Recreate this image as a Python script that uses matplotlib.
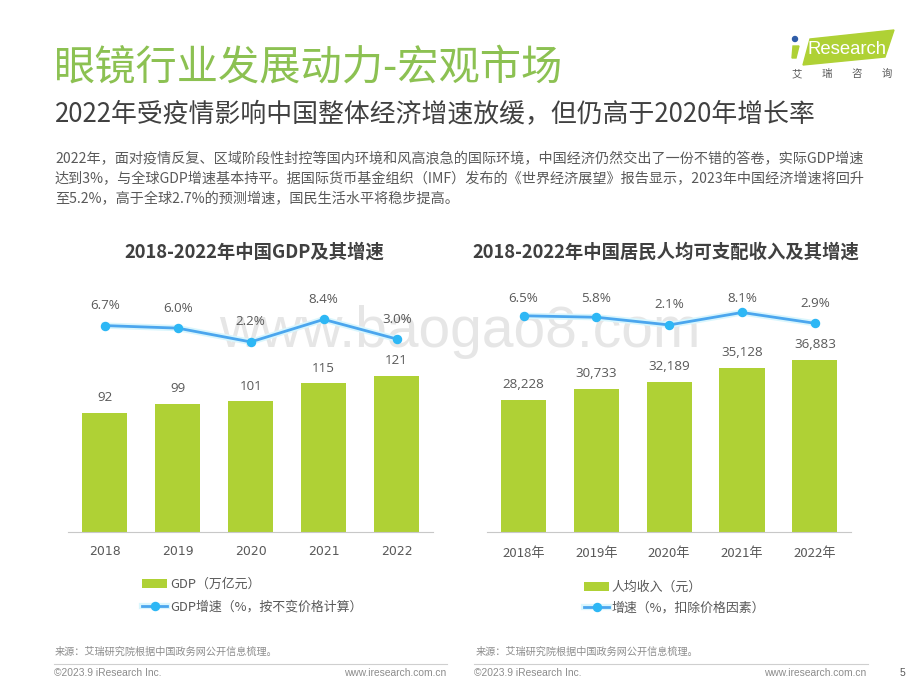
import matplotlib
matplotlib.use("Agg")
import matplotlib.pyplot as plt
from matplotlib.legend_handler import HandlerTuple
from matplotlib.patches import Polygon, Circle

plt.rcParams['font.family'] = ['Noto Sans CJK SC', 'DejaVu Sans']

# data
years_gdp = ['2018', '2019', '2020', '2021', '2022']
years_income = ['2018年', '2019年', '2020年', '2021年', '2022年']
gdp = [92, 99, 101, 115, 121]
gdp_rate = [6.7, 6.0, 2.2, 8.4, 3.0]
income = [28228, 30733, 32189, 35128, 36883]
income_rate = [6.5, 5.8, 2.1, 8.1, 2.9]

title = '眼镜行业发展动力-宏观市场'
subtitle = '2022年受疫情影响中国整体经济增速放缓，但仍高于2020年增长率'
body = ['2022年，面对疫情反复、区域阶段性封控等国内环境和风高浪急的国际环境，中国经济仍然交出了一份不错的答卷，实际GDP增速',
        '达到3%，与全球GDP增速基本持平。据国际货币基金组织（IMF）发布的《世界经济展望》报告显示，2023年中国经济增速将回升',
        '至5.2%，高于全球2.7%的预测增速，国民生活水平将稳步提高。']

GREEN = '#AFD135'
BLUE = '#4BA6EE'
DOT = '#2DB7F5'
TEXT = '#595959'
W, H = 920, 690

fig = plt.figure(figsize=(9.2, 6.9), dpi=100)


def axes_px(x0, x1, y0, y1):
    return fig.add_axes([x0 / W, 1 - y1 / H, (x1 - x0) / W, (y1 - y0) / H])


# page layer in pixel coords
bg = axes_px(0, W, 0, H)
bg.set_xlim(0, W)
bg.set_ylim(H, 0)
bg.axis('off')

bg.text(54, 69, title, fontsize=29.7, color='#8CC152', va='center', ha='left')
bg.text(55, 115, subtitle, fontsize=18.6, color='#404040', va='center', ha='left')
for y, line in zip([159, 179, 199], body):
    bg.text(55, y, line, fontsize=10.17, color=TEXT, va='center', ha='left')

bg.text(254, 252, '2018-2022年中国GDP及其增速', fontsize=13.2, fontweight='bold',
        color='#404040', ha='center', va='center')
bg.text(666, 252, '2018-2022年中国居民人均可支配收入及其增速', fontsize=13.2, fontweight='bold',
        color='#404040', ha='center', va='center')

# logo
bg.add_patch(Polygon([[810, 39], [894, 30], [885, 57], [803, 65]], closed=True, color=GREEN))
bg.add_patch(Polygon([[793, 46], [799, 46], [796, 58], [792, 58]], closed=True, color=GREEN))
bg.add_patch(Circle((795, 39), 2.5, color='#2F5DA8'))
bg.text(808, 49, 'Research', family='Liberation Sans', fontsize=13.3, color='white', ha='left', va='center')
for x, ch in zip([797, 827, 857, 887], '艾瑞咨询'):
    bg.text(x, 74, ch, fontsize=7.5, color=TEXT, ha='center', va='center')

# footer
for x0, x1, url_x, src_x in [(54, 447, 446, 55), (474, 868, 866, 476)]:
    bg.plot([x0, x1], [663.5, 663.5], color='#CFCFCF', lw=0.8)
    bg.text(src_x, 652, '来源：艾瑞研究院根据中国政务网公开信息梳理。', fontsize=7.3, color='#8C8C8C', va='center')
    bg.text(x0, 673, '©2023.9 iResearch Inc.', family='Liberation Sans', fontsize=7.4,
            color='#8C8C8C', va='center')
    bg.text(url_x, 673, 'www.iresearch.com.cn', family='Liberation Sans', fontsize=7.4,
            color='#8C8C8C', va='center', ha='right')
bg.text(902, 673, '5', family='Liberation Sans', fontsize=7.5, color=TEXT, ha='center', va='center')


def draw_chart(x0, x1, labels, bars, rates, bar_top, rate_lim, bar_fmt, tick_font, tick_size, tick_pad,
               rate_off, names, legend_xy, spacing):
    ax = axes_px(x0, x1, 290, 531.5)
    ax.patch.set_alpha(0)
    xs = list(range(len(labels)))
    b = ax.bar(xs, bars, width=0.623, color=GREEN, zorder=2)
    ax.set_xlim(-0.503, 4.497)
    ax.set_ylim(0, bar_top)
    ax.set_xticks(xs)
    ax.set_xticklabels(labels, fontsize=tick_size, color=TEXT, family=tick_font)
    ax.tick_params(axis='x', length=0, pad=tick_pad)
    ax.set_yticks([])
    for s in ['top', 'left', 'right']:
        ax.spines[s].set_visible(False)
    ax.spines['bottom'].set_color('#C8C8C8')
    ax.spines['bottom'].set_linewidth(0.8)
    for x, v in zip(xs, bars):
        ax.annotate(bar_fmt.format(v), (x, v), xytext=(0, 11), textcoords='offset points',
                    ha='center', va='center', fontsize=9.6, color=TEXT, family='Open Sans')

    ax2 = ax.twinx()
    ax2.set_ylim(*rate_lim)
    ax2.axis('off')
    glow, = ax2.plot(xs, rates, color='#D9F6FD', lw=4.5, zorder=2)
    line, = ax2.plot(xs, rates, color=BLUE, lw=2, marker='o', ms=5.8, mfc=DOT, mec=DOT, zorder=3)
    for x, v, off in zip(xs, rates, rate_off):
        ax2.annotate('%.1f%%' % v, (x, v), xytext=(0, off * 0.72), textcoords='offset points',
                     ha='center', va='center', fontsize=9.6, color=TEXT, family='Open Sans')

    fig.legend(handles=[b, (glow, line)], labels=names, loc='upper left',
               handler_map={tuple: HandlerTuple(ndivide=1, pad=0)},
               bbox_to_anchor=(legend_xy[0] / W, 1 - legend_xy[1] / H), frameon=False,
               fontsize=9.3, labelcolor=TEXT, handlelength=1.95, handletextpad=0.2,
               labelspacing=spacing, borderpad=0, borderaxespad=0)


draw_chart(68, 433, years_gdp, gdp, gdp_rate, 187.5, (-50, 16.5), '{:d}', 'DejaVu Sans', 9, 9.5,
           [20, 20, 20, 20, 20],
           ['GDP（万亿元）', 'GDP增速（%，按不变价格计算）'], (142, 578), 0.75)
draw_chart(487, 851, years_income, income, income_rate, 51935, (-97.2, 18.9), '{:,d}',
           ['Noto Sans CJK SC', 'DejaVu Sans'], 9.5, 11,
           [17.5, 19, 20, 14, 19.5],
           ['人均收入（元）', '增速（%，扣除价格因素）'], (584, 581), 0.6)

# watermark, behind the chart axes
fig.text(460 / W, 1 - 347 / H, 'www.baogao8.com', family='Liberation Sans', fontsize=41,
         color='#E6E6E6', ha='center', va='baseline', zorder=-1)

fig.savefig('out.png', dpi=100)
